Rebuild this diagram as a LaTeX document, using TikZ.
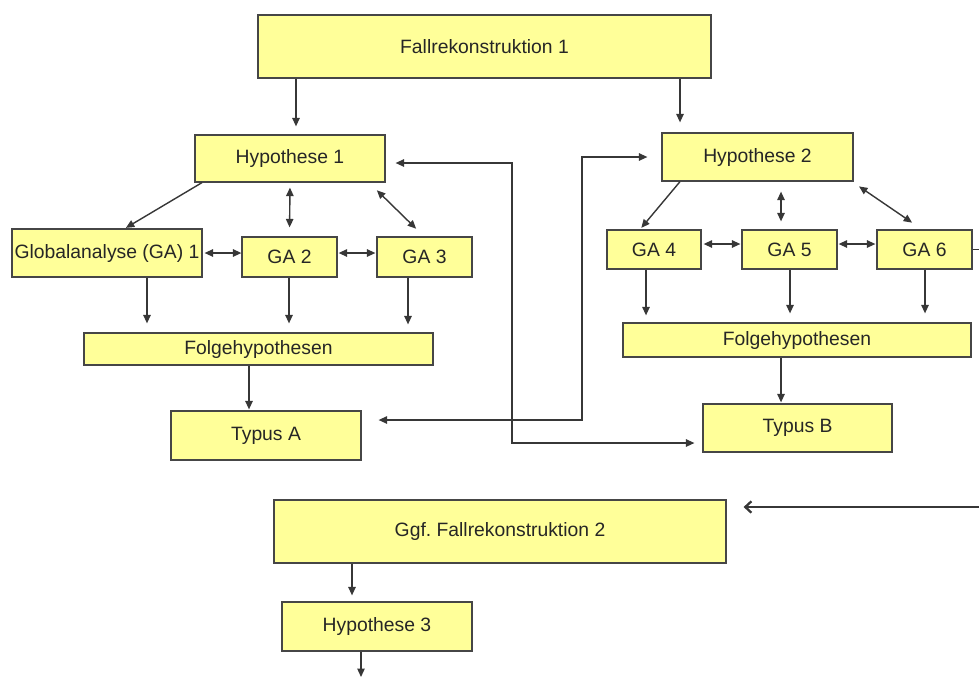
\documentclass[tikz,border=0pt]{standalone}
\usepackage{fontspec}
\setmainfont{Liberation Sans}
\usetikzlibrary{arrows.meta}

\definecolor{boxfill}{RGB}{255,255,153}
\definecolor{boxline}{RGB}{70,70,70}
\definecolor{linkgray}{RGB}{55,55,55}

\tikzset{
	box/.style={draw=boxline, fill=boxfill, line width=0.7pt, inner sep=0pt,
		text=black!85, font=\fontsize{11}{13}\selectfont},
	arr/.style={draw=linkgray, line width=0.8pt, -{Triangle[length=4.8pt,width=4.2pt]}},
	dbl/.style={draw=linkgray, line width=0.8pt, {Triangle[length=4.8pt,width=4.2pt]}-{Triangle[length=4.8pt,width=4.2pt]}},
	openarr/.style={draw=linkgray, line width=0.9pt, -{Straight Barb[length=3.5pt,width=6.5pt,line width=1.3pt]}},
}

\begin{document}
\begin{tikzpicture}[x=0.02cm, y=-0.02cm]
		\useasboundingbox (0,0) rectangle (979,677);

		% first case
		\node[box, minimum width=9.06cm, minimum height=1.26cm] (F1) at (484.5,46.5) {Fallrekonstruktion 1};
		\node[box, minimum width=3.8cm, minimum height=0.94cm] (H1) at (290,158.5) {Hypothese 1};
		\node[box, minimum width=3.82cm, minimum height=0.96cm] (H2) at (757.5,157) {Hypothese 2};

		\node[box, minimum width=3.8cm, minimum height=0.96cm] (GA1) at (107,253) {Globalanalyse (GA) 1};
		\node[box, minimum width=1.9cm, minimum height=0.8cm] (GA2) at (289.5,257) {GA 2};
		\node[box, minimum width=1.9cm, minimum height=0.8cm] (GA3) at (424.5,257) {GA 3};
		\node[box, minimum width=6.98cm, minimum height=0.64cm] (FH1) at (258.5,349) {Folgehypothesen};
		\node[box, minimum width=3.8cm, minimum height=0.98cm] (TA) at (266,435.5) {Typus A};

		\node[box, minimum width=1.88cm, minimum height=0.78cm] (GA4) at (654,249.5) {GA 4};
		\node[box, minimum width=1.9cm, minimum height=0.78cm] (GA5) at (789.5,249.5) {GA 5};
		\node[box, minimum width=1.9cm, minimum height=0.78cm] (GA6) at (924.5,249.5) {GA 6};
		\node[box, minimum width=6.96cm, minimum height=0.68cm] (FH2) at (797,340) {Folgehypothesen};
		\node[box, minimum width=3.78cm, minimum height=0.96cm] (TB) at (797.5,428) {Typus B};

		% second case
		\node[box, minimum width=9.04cm, minimum height=1.26cm] (F2) at (500,531.5) {Ggf.\ Fallrekonstruktion 2};
		\node[box, minimum width=3.8cm, minimum height=0.98cm] (H3) at (377,626.5) {Hypothese 3};

		\coordinate (b1) at (512,443);
		\coordinate (b2) at (582,420);
		\coordinate (in2) at (979,507);
		\coordinate (out3) at (361,677);

		% left branch
		\draw[arr, shorten >=0.16cm] (296,0 |- F1.south) -- (296,0 |- H1.north);
		\draw[arr, shorten >=0.02cm] (202,0 |- H1.south) -- (125,0 |- GA1.north);
		\draw[dbl, shorten <=0.1cm, shorten >=0.18cm] (H1.south) -- (GA2.north);
		\draw[dbl, shorten <=0.22cm, shorten >=0.22cm] (369,0 |- H1.south) -- (424,0 |- GA3.north);
		\draw[dbl, shorten <=0.04cm] (GA1.east) -- (GA1.east -| GA2.west);
		\draw[dbl, shorten <=0.02cm, shorten >=0.02cm] (GA1.east -| GA2.east) -- (GA1.east -| GA3.west);
		\draw[arr, shorten >=0.18cm] (147,0 |- GA1.south) -- (147,0 |- FH1.north);
		\draw[arr, shorten >=0.18cm] (289,0 |- GA2.south) -- (289,0 |- FH1.north);
		\draw[arr, shorten >=0.16cm] (408,0 |- GA3.south) -- (408,0 |- FH1.north);
		\draw[arr, shorten >=0.02cm] (249,0 |- FH1.south) -- (249,0 |- TA.north);

		% right branch
		\draw[arr, shorten >=0.2cm] (680,0 |- F1.south) -- (680,0 |- H2.north);
		\draw[arr, shorten >=0.04cm] (680,0 |- H2.south) -- (640,0 |- GA4.north);
		\draw[dbl, shorten <=0.2cm, shorten >=0.16cm] (781,0 |- H2.south) -- (781,0 |- GA5.north);
		\draw[dbl, shorten <=0.17cm, shorten >=0.24cm] (852,0 |- H2.south) -- (922,0 |- GA6.north);
		\draw[dbl, shorten <=0.04cm, shorten >=0.02cm] ([yshift=0.11cm]GA4.east) -- ([yshift=0.11cm]GA5.west);
		\draw[dbl, shorten <=0.02cm, shorten >=0.02cm] ([yshift=0.11cm]GA5.east) -- ([yshift=0.11cm]GA6.west);
		\draw[draw=linkgray, line width=0.8pt] (GA6.east) -- (979,0 |- GA6.east);
		\draw[arr, shorten >=0.14cm] (646,0 |- GA4.south) -- (646,0 |- FH2.north);
		\draw[arr, shorten >=0.18cm] (790,0 |- GA5.south) -- (790,0 |- FH2.north);
		\draw[arr, shorten >=0.18cm] (925,0 |- GA6.south) -- (925,0 |- FH2.north);
		\draw[arr, shorten >=0.02cm] (781,0 |- FH2.south) -- (781,0 |- TB.north);

		% cross links
		\draw[dbl, shorten <=0.2cm, shorten >=0.16cm] ([yshift=-0.09cm]H1.east) -| (b1) -- (b1 -| TB.west);
		\draw[dbl, shorten <=0.34cm, shorten >=0.28cm] (b2 -| TA.east) -- (b2) |- (H2.west);

		% second case
		\draw[openarr, shorten >=0.34cm] (in2) -- (in2 -| F2.east);
		\draw[arr, shorten >=0.12cm] (352,0 |- F2.south) -- (352,0 |- H3.north);
		\draw[arr] (361,0 |- H3.south) -- (out3);
	\end{tikzpicture}
\end{document}
